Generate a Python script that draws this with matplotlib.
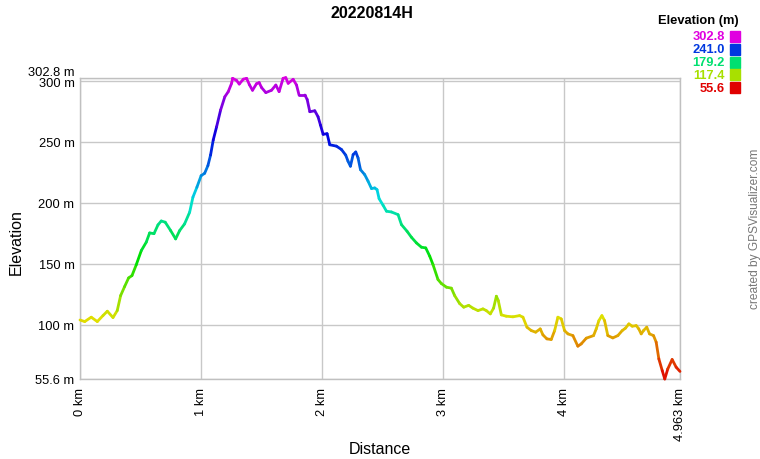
import numpy as np
import matplotlib
matplotlib.use('Agg')
import matplotlib.pyplot as plt
from matplotlib.collections import LineCollection
from matplotlib.colors import hsv_to_rgb

plt.rcParams['font.family'] = ['Liberation Sans', 'DejaVu Sans']

# Track profile: distance (km) and elevation (m)
distance_km = [
    0.000, 0.039, 0.093, 0.143, 0.190, 0.226, 0.273, 0.308, 0.336, 0.369,
    0.402, 0.430, 0.465, 0.507, 0.548, 0.576, 0.612, 0.645, 0.672, 0.705,
    0.750, 0.791, 0.824, 0.865, 0.907, 0.934, 0.967, 1.002, 1.031, 1.058,
    1.080, 1.102, 1.130, 1.163, 1.198, 1.226, 1.254, 1.262, 1.295, 1.317,
    1.351, 1.378, 1.401, 1.427, 1.460, 1.482, 1.502, 1.537, 1.584, 1.620,
    1.647, 1.680, 1.702, 1.722, 1.763, 1.791, 1.812, 1.860, 1.879, 1.901,
    1.942, 1.969, 1.989, 2.011, 2.044, 2.066, 2.121, 2.163, 2.198, 2.217,
    2.237, 2.259, 2.281, 2.300, 2.320, 2.355, 2.383, 2.411, 2.438, 2.457,
    2.474, 2.507, 2.535, 2.576, 2.631, 2.659, 2.705, 2.741, 2.783, 2.824,
    2.860, 2.893, 2.920, 2.961, 2.989, 3.031, 3.072, 3.099, 3.140, 3.174,
    3.215, 3.250, 3.292, 3.333, 3.361, 3.394, 3.421, 3.444, 3.460, 3.485,
    3.526, 3.581, 3.636, 3.664, 3.697, 3.733, 3.769, 3.807, 3.829, 3.862,
    3.898, 3.926, 3.953, 3.981, 4.008, 4.036, 4.077, 4.118, 4.146, 4.188,
    4.248, 4.270, 4.292, 4.317, 4.339, 4.366, 4.407, 4.449, 4.485, 4.512,
    4.540, 4.568, 4.601, 4.622, 4.642, 4.661, 4.688, 4.711, 4.744, 4.766,
    4.788, 4.816, 4.837, 4.862, 4.898, 4.931, 4.963,
]
elevation_m = [
    104.0, 102.7, 106.3, 102.7, 107.6, 111.2, 106.0, 111.7, 124.0, 131.4,
    138.5, 140.4, 149.2, 160.9, 167.8, 175.4, 174.8, 182.0, 185.2, 184.2,
    177.3, 170.5, 177.3, 182.8, 192.4, 204.7, 212.9, 222.4, 224.3, 230.6,
    239.3, 251.6, 262.5, 276.2, 287.1, 291.2, 298.1, 302.2, 300.5, 297.5,
    301.5, 302.2, 297.0, 292.4, 297.8, 298.7, 294.6, 290.5, 292.4, 296.7,
    291.3, 302.2, 302.8, 298.1, 301.4, 296.7, 288.5, 288.5, 284.9, 274.8,
    275.6, 270.7, 263.9, 256.3, 256.8, 247.7, 246.6, 243.8, 239.2, 234.2,
    230.1, 239.6, 241.8, 236.9, 227.3, 223.2, 217.8, 211.8, 212.3, 210.9,
    203.5, 198.1, 193.2, 192.6, 190.4, 182.2, 176.8, 171.9, 167.2, 163.7,
    163.1, 156.3, 149.4, 137.2, 133.9, 130.9, 130.1, 124.0, 117.5, 114.5,
    116.0, 113.7, 111.7, 113.1, 111.7, 109.0, 113.7, 123.5, 119.9, 108.2,
    107.1, 106.6, 107.6, 106.3, 98.1, 95.3, 94.0, 96.7, 91.8, 88.5,
    88.0, 95.3, 106.3, 104.9, 95.3, 92.6, 91.2, 82.5, 84.4, 89.1,
    91.2, 96.7, 103.5, 107.6, 103.5, 91.2, 89.3, 91.2, 95.3, 97.3,
    100.8, 98.9, 99.4, 96.7, 92.6, 95.3, 98.1, 92.6, 91.2, 85.8,
    72.1, 62.5, 55.6, 63.9, 71.6, 65.3, 61.8,
]

y_ticks = [55.6, 100, 150, 200, 250, 300, 302.8]
y_tick_labels = ['55.6 m', '100 m', '150 m', '200 m', '250 m', '300 m', '302.8 m']
x_ticks = [0, 1, 2, 3, 4, 4.963]
x_tick_labels = ['0 km', '1 km', '2 km', '3 km', '4 km', '4.963 km']
legend_values = [302.8, 241.0, 179.2, 117.4, 55.6]

e_min, e_max = min(elevation_m), max(elevation_m)


def elev_color(e):
    # hue runs from red (lowest) to magenta (highest)
    frac = (e - e_min) / (e_max - e_min)
    return hsv_to_rgb([frac * 300 / 360, 1.0, 0.88])


fig = plt.figure(figsize=(7.6, 4.6), dpi=100)
ax = fig.add_axes([80 / 760, 1 - 380 / 460, 600 / 760, (380 - 78.6) / 460])

# coloured line, one segment per step
x = np.array(distance_km)
y = np.array(elevation_m)
pts = np.column_stack([x, y]).reshape(-1, 1, 2)
segs = np.concatenate([pts[:-1], pts[1:]], axis=1)
seg_colors = [elev_color((a + b) / 2) for a, b in zip(y[:-1], y[1:])]
lc = LineCollection(segs, colors=seg_colors, linewidths=2.0, capstyle='round',
                    zorder=3, clip_on=False)
ax.add_collection(lc)

ax.set_xlim(0, 4.963)
ax.set_ylim(55.6, 302.8)

ax.set_yticks(y_ticks)
ax.set_yticklabels(y_tick_labels, fontsize=9.3)
ax.set_xticks(x_ticks)
ax.set_xticklabels(x_tick_labels, fontsize=9.3, rotation=90)
ax.tick_params(axis='both', length=0, colors='black')
ax.tick_params(axis='y', pad=4)
ax.tick_params(axis='x', pad=6)
ax.get_yticklabels()[-1].set_va('bottom')

ax.grid(True, color='#c8c8c8', linewidth=1.0)
ax.set_axisbelow(True)
for sp in ax.spines.values():
    sp.set_color('#c0c0c0')
    sp.set_linewidth(1.0)

fig.text(16 / 760, 1 - 242 / 460, 'Elevation', fontsize=11.5, rotation=90,
         ha='center', va='center')
fig.text(380 / 760, 1 - 450 / 460, 'Distance', fontsize=11.5, ha='center', va='center')

fig.text(372 / 760, 1 - 14 / 460, '20220814H', fontsize=11.5, fontweight='bold',
         ha='center', va='center')

# legend for the colour scale
fig.text(739 / 760, 1 - 21 / 460, 'Elevation (m)', fontsize=9.3, fontweight='bold',
         ha='right', va='center')
for i, v in enumerate(legend_values):
    yy = 1 - (37.5 + i * 12.8) / 460
    c = elev_color(v)
    fig.text(725 / 760, yy, f'{v:.1f}', fontsize=9.3, fontweight='bold',
             color=c, ha='right', va='center')
    fig.patches.append(plt.Rectangle((730 / 760, yy - 5.5 / 460), 10 / 760, 11 / 460,
                                     transform=fig.transFigure, color=c))

fig.text(755 / 760, 1 - 229 / 460, 'created by GPSVisualizer.com', fontsize=8.6,
         color='#777777', rotation=90, ha='center', va='center')

fig.savefig('out.png', dpi=100)
